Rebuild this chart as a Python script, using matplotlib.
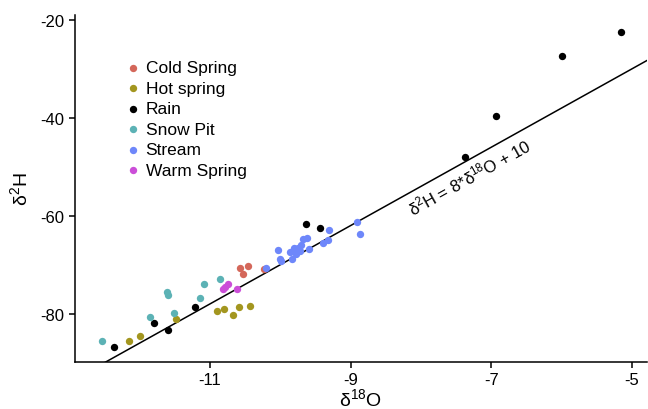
import matplotlib
matplotlib.use("Agg")
import matplotlib.pyplot as plt
import numpy as np

plt.rcParams['font.family'] = ['Liberation Sans', 'DejaVu Sans']
plt.rcParams['mathtext.fontset'] = 'custom'
plt.rcParams['mathtext.rm'] = 'Liberation Sans'
plt.rcParams['mathtext.it'] = 'Liberation Sans:italic'
plt.rcParams['axes.unicode_minus'] = False

# isotope data
groups = ['Cold Spring', 'Hot spring', 'Rain', 'Snow Pit', 'Stream', 'Warm Spring']
colors = ['#D4675A', '#A3961F', '#000000', '#5CB2B5', '#6E87FA', '#CB4ED8']

cold_o = [-10.58, -10.53, -10.46, -10.23]
cold_h = [-70.7, -71.9, -70.3, -70.9]

hot_o = [-12.15, -12.00, -11.48, -10.90, -10.80, -10.67, -10.59, -10.43]
hot_h = [-85.5, -84.6, -81.0, -79.4, -79.0, -80.2, -78.7, -78.4]

rain_o = [-12.36, -11.80, -11.60, -11.22, -9.63, -9.44, -7.37, -6.93, -6.00, -5.16]
rain_h = [-86.7, -81.9, -83.3, -78.7, -61.6, -62.4, -48.0, -39.7, -27.3, -22.4]

snow_o = [-12.54, -11.85, -11.61, -11.60, -11.51, -11.14, -11.09, -10.86]
snow_h = [-85.5, -80.7, -75.6, -76.2, -79.9, -76.7, -74.0, -72.9]

stream_o = [-10.21, -10.04, -10.01, -9.99, -9.86, -9.83, -9.82, -9.80, -9.75, -9.72,
            -9.68, -9.62, -9.59, -9.40, -9.32, -9.31, -8.91, -8.86, -9.77, -9.70]
stream_h = [-70.6, -66.9, -68.8, -69.2, -67.5, -68.8, -67.1, -66.6, -66.5, -67.1,
            -64.8, -64.6, -66.7, -65.6, -65.0, -62.9, -61.2, -63.8, -67.9, -66.0]

warm_o = [-10.75, -10.81, -10.78, -10.61]
warm_h = [-73.9, -75.0, -74.6, -74.9]

series = [(cold_o, cold_h), (hot_o, hot_h), (rain_o, rain_h),
          (snow_o, snow_h), (stream_o, stream_h), (warm_o, warm_h)]

# global meteoric water line
gmwl_slope = 8
gmwl_int = 10

fig = plt.figure(figsize=(6.48, 4.10), dpi=100)
ax = fig.add_axes([0.1157, 0.1154, 0.8823, 0.8456])

for name, col, (xo, yh) in zip(groups, colors, series):
    ax.scatter(xo, yh, s=28, color=col, label=name, linewidths=0, zorder=3)

xl = np.array([-13, -4])
ax.plot(xl, gmwl_slope * xl + gmwl_int, color='black', linewidth=1.1, zorder=2)

ax.text(-7.31, -51.9, r'δ$^{2}$H = 8*δ$^{18}$O + 10', rotation=29.1,
        ha='center', va='center', fontsize=12)

ax.set_xlim(-12.92, -4.79)
ax.set_ylim(-89.8, -19.0)
ax.set_xticks([-11, -9, -7, -5])
ax.set_yticks([-80, -60, -40, -20])
ax.set_xlabel(r'δ$^{18}$O', fontsize=14, labelpad=0)
ax.set_ylabel(r'δ$^{2}$H', fontsize=14, labelpad=7)

for s in ['top', 'right']:
    ax.spines[s].set_visible(False)
for s in ['left', 'bottom']:
    ax.spines[s].set_linewidth(1.1)
ax.tick_params(direction='out', length=4, width=1.1, labelsize=12, colors='black')

ax.legend(loc='upper left', bbox_to_anchor=(0.09, 0.87), frameon=False,
          fontsize=12.5, handlelength=0.8, handletextpad=0.3, labelspacing=0.31,
          borderaxespad=0, borderpad=0, scatterpoints=1)

fig.savefig('out.png', dpi=100)
